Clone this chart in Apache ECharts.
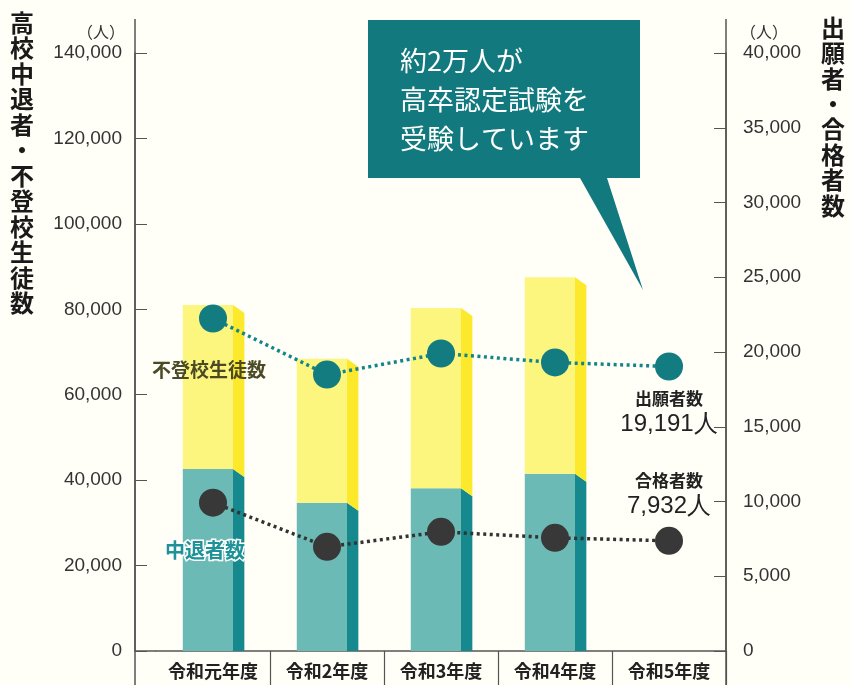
<!DOCTYPE html>
<html>
<head>
<meta charset="utf-8">
<script src="https://cdn.jsdelivr.net/npm/echarts@6/dist/echarts.min.js"></script>
<style>
    html, body {margin: 0; padding: 0; background: #fffef7;}
    #chart {width: 850px; height: 685px;}
</style>
</head>
<body>
<div id="chart"></div>
<script type="text/javascript">
    // categories
    let years = ['令和元年度', '令和2年度', '令和3年度', '令和4年度', '令和5年度'];
    // left axis (人): bars, 中退者数 at the bottom, 不登校生徒数 stacked on top
    let dropouts = [42600, 34700, 38100, 41500];
    let nonAttend = [38400, 33700, 42200, 46000];
    // right axis (人): 出願者数 / 合格者数
    let applicants = [22240, 18490, 19900, 19300, 19030];
    let passers = [9920, 6970, 7970, 7570, 7370];
    // left / right axis ticks
    let leftMax = 140000, leftStep = 20000;
    let rightMax = 40000, rightStep = 5000;
    // call-outs next to the last points
    let applicantNote = ['出願者数', '19,191人'];
    let passerNote = ['合格者数', '7,932人'];

    let jp = '"Noto Sans CJK JP", sans-serif';
    let num = '"Liberation Sans", Arial, sans-serif';
    let axisColor = '#555';

    function renderBar(params, api) {
        let i = api.value(0);
        let low = api.value(1), high = api.value(2);
        let base = api.coord([i, 0]);
        let p1 = api.coord([i, low]);
        let p2 = api.coord([i, low + high]);
        let band = api.size([1, 0])[0];
        let fw = band * 0.44, sw = band * 0.1, drop = 8;
        let x0 = base[0] - band * 0.265;
        let x1 = x0 + fw, x2 = x1 + sw;
        return {
            type: 'group',
            children: [
                {type: 'rect', shape: {x: x0, y: p1[1], width: fw, height: base[1] - p1[1]}, style: {fill: '#6cbab5'}},
                {type: 'polygon', shape: {points: [[x1, p1[1]], [x2, p1[1] + drop], [x2, base[1]], [x1, base[1]]]}, style: {fill: '#15898e'}},
                {type: 'rect', shape: {x: x0, y: p2[1], width: fw, height: p1[1] - p2[1]}, style: {fill: '#fcf67e'}},
                {type: 'polygon', shape: {points: [[x1, p2[1]], [x2, p2[1] + drop], [x2, p1[1] + drop], [x1, p1[1]]]}, style: {fill: '#fce92c'}}
            ]
        };
    }

    function noteRich() {
        return {
            a: {fontFamily: jp, fontSize: 17, fontWeight: 'bold', color: '#222', lineHeight: 24},
            b: {fontFamily: num, fontSize: 24, color: '#222', lineHeight: 28}
        };
    }

    function lineData(values, note, pos) {
        return values.map(function (v, i) {
            if (i < values.length - 1) return v;
            return {
                value: v,
                label: {
                    show: true, position: pos, distance: 6,
                    formatter: '{a|' + note[0] + '}\n{b|' + note[1] + '}',
                    rich: noteRich()
                }
            };
        });
    }

    function vertical(str) {
        return str.split('').join('\n');
    }

    let myChart = echarts.init(document.getElementById('chart'));
    let option = {
        backgroundColor: '#fffef7',
        animation: false,
        grid: {left: 156, right: 124, top: 53, bottom: 34},
        xAxis: {
            type: 'category',
            data: years,
            axisLine: {lineStyle: {color: axisColor, width: 1.5}},
            axisTick: {
                show: true, length: 36,
                interval: function (i) { return i > 0; },
                lineStyle: {color: axisColor, width: 1.2}
            },
            axisLabel: {interval: 0, fontFamily: jp, fontSize: 18, fontWeight: 'bold', color: '#222', margin: 11}
        },
        yAxis: [
            {
                type: 'value', min: 0, max: leftMax, interval: leftStep,
                offset: 21,
                name: '（人）', nameLocation: 'end', nameGap: 13,
                nameTextStyle: {fontFamily: jp, fontSize: 16, color: '#333', align: 'right', padding: [0, 10, 0, 0]},
                axisLine: {show: true, lineStyle: {color: axisColor, width: 1.5}},
                axisTick: {show: true, inside: true, length: 12, lineStyle: {color: axisColor}},
                axisLabel: {
                    fontFamily: num, fontSize: 19, color: '#333', margin: 13,
                    formatter: function (v) { return v.toLocaleString('en-US'); }
                },
                splitLine: {show: false}
            },
            {
                type: 'value', min: 0, max: rightMax, interval: rightStep,
                position: 'right',
                name: '（人）', nameLocation: 'end', nameGap: 13,
                nameTextStyle: {fontFamily: jp, fontSize: 16, color: '#333', align: 'left', padding: [0, 0, 0, 14]},
                axisLine: {show: true, lineStyle: {color: axisColor, width: 1.5}},
                axisTick: {show: true, inside: true, length: 12, lineStyle: {color: axisColor}},
                axisLabel: {
                    fontFamily: num, fontSize: 19, color: '#333', margin: 17,
                    formatter: function (v) { return v.toLocaleString('en-US'); }
                },
                splitLine: {show: false}
            }
        ],
        series: [
            {
                name: '中退者数・不登校生徒数',
                type: 'custom',
                renderItem: renderBar,
                data: dropouts.map(function (v, i) { return [i, v, nonAttend[i], v + nonAttend[i]]; }),
                encode: {x: 0, y: 3},
                z: 2
            },
            {
                name: '出願者数',
                type: 'line',
                yAxisIndex: 1,
                data: lineData(applicants, applicantNote, 'bottom'),
                symbol: 'circle', symbolSize: 28,
                itemStyle: {color: '#127c81'},
                lineStyle: {color: '#12858a', width: 3.5, type: [3, 3.5]},
                z: 5
            },
            {
                name: '合格者数',
                type: 'line',
                yAxisIndex: 1,
                data: lineData(passers, passerNote, 'top'),
                symbol: 'circle', symbolSize: 28,
                itemStyle: {color: '#383838'},
                lineStyle: {color: '#333', width: 3.5, type: [3, 3.5]},
                z: 5
            }
        ],
        graphic: [
            // axis lines run past the plot
            {type: 'line', shape: {x1: 135, y1: 19, x2: 135, y2: 685}, style: {stroke: axisColor, lineWidth: 1.5}, z: 1},
            {type: 'line', shape: {x1: 726, y1: 19, x2: 726, y2: 685}, style: {stroke: axisColor, lineWidth: 1.5}, z: 1},
            {type: 'line', shape: {x1: 135, y1: 651, x2: 156, y2: 651}, style: {stroke: axisColor, lineWidth: 1.5}, z: 1},
            // speech bubble
            {
                type: 'polygon', z: 10,
                shape: {points: [[368, 20], [640, 20], [640, 178], [607, 178], [643, 290], [580, 178], [368, 178]]},
                style: {fill: '#127a7f'}
            },
            {
                type: 'text', z: 11, x: 400, y: 41,
                style: {
                    text: '約2万人が\n高卒認定試験を\n受験しています',
                    font: '27px ' + jp, fill: '#fff', lineHeight: 39,
                    textAlign: 'left', textVerticalAlign: 'top'
                }
            },
            // axis titles
            {
                type: 'text', x: 22, y: 10,
                style: {
                    text: vertical('高校中退者・不登校生徒数'),
                    font: 'bold 24px ' + jp, fill: '#1a1a1a', lineHeight: 25.5,
                    textAlign: 'center', textVerticalAlign: 'top'
                }
            },
            {
                type: 'text', x: 833, y: 15,
                style: {
                    text: vertical('出願者・合格者数'),
                    font: 'bold 24px ' + jp, fill: '#1a1a1a', lineHeight: 25.4,
                    textAlign: 'center', textVerticalAlign: 'top'
                }
            },
            // series names
            {
                type: 'text', x: 152, y: 370, z: 6,
                style: {
                    text: '不登校生徒数', font: 'bold 19px ' + jp, fill: '#4b4a25',
                    textAlign: 'left', textVerticalAlign: 'middle'
                }
            },
            {
                type: 'text', x: 165, y: 550, z: 6,
                style: {
                    text: '中退者数', font: 'bold 20px ' + jp, fill: '#1f9298',
                    stroke: '#fff', lineWidth: 3,
                    textAlign: 'left', textVerticalAlign: 'middle'
                }
            }
        ]
    };
    myChart.setOption(option);
</script>
</body>
</html>
